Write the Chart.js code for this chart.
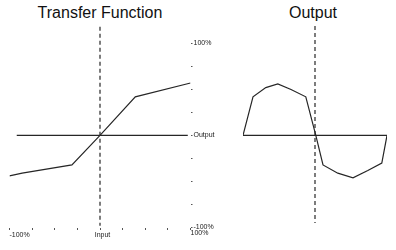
<!DOCTYPE html>
<html>
<head>
<meta charset="utf-8">
<script src="https://cdn.jsdelivr.net/npm/chart.js@4.4.1/dist/chart.umd.min.js"></script>
<style>
  html, body { margin: 0; padding: 0; background: #fff; }
  body { width: 396px; height: 250px; position: relative; overflow: hidden; font-family: "Liberation Sans", Arial, sans-serif; }
  .title { position: absolute; top: 5px; font-size: 16px; line-height: 16px; color: #111; white-space: nowrap; transform: translateX(-50%); }
  canvas { position: absolute; top: 0; }
</style>
</head>
<body>
<div class="title" style="left:100px">Transfer Function</div>
<div class="title" style="left:313px">Output</div>
<canvas id="left" width="230" height="250" style="left:0;width:230px;height:250px"></canvas>
<canvas id="right" width="166" height="250" style="left:230px;width:166px;height:250px"></canvas>
<script>
// ---- data ----
const tfInput  = [-100, -86, -31, 0, 39, 100];
const tfOutput = [-44, -41, -32, 0, 42, 57];
const zeroLineX = [-92, 97];
const inputMarkerY = [118, -98];
const axisTicks = [-100, -75, -50, -25, 0, 25, 50, 75, 100];
const yTickLabels = { "100": "100%", "0": "Output", "-100": "-100%" };
const xTickLabels = { "-100": "-100%", "0": "Input", "100": "100%" };

const phase  = [0, 25, 57, 87, 120, 157, 182, 200, 237, 275, 312, 347, 360];
const outVal = [0, 42, 52, 56, 50, 42, 0, -32, -41, -46, -38, -30, 0];
const outZeroX = [0, 360];
const outMarkerX = 180;
const outMarkerY = [119, -95];

const ink = '#262626';
const zip = (xs, ys) => xs.map((x, i) => ({ x, y: ys[i] }));

const xLabelPlugin = {
  id: 'xLabels',
  afterDraw(chart) {
    const xs = chart.scales.x;
    const ctx = chart.ctx;
    ctx.save();
    ctx.font = '7px "Liberation Sans", Arial, sans-serif';
    ctx.fillStyle = '#1a1a1a';
    ctx.textBaseline = 'middle';
    const base = chart.chartArea.bottom;
    ctx.textAlign = 'left';
    ctx.fillText(xTickLabels["-100"], xs.getPixelForValue(-100), base + 8);
    ctx.textAlign = 'center';
    ctx.fillText(xTickLabels["0"], xs.getPixelForValue(0) + 2.5, base + 8);
    ctx.textAlign = 'left';
    ctx.fillText(xTickLabels["100"], xs.getPixelForValue(100), base + 5.5);
    ctx.restore();
  }
};

new Chart(document.getElementById('left'), {
  type: 'line',
  data: {
    datasets: [
      { data: zip(tfInput, tfOutput), borderColor: ink, borderWidth: 1.2, pointRadius: 0, tension: 0 },
      { data: zip(zeroLineX, [0, 0]), borderColor: ink, borderWidth: 1.2, pointRadius: 0 },
      { data: zip([0, 0], inputMarkerY), borderColor: ink, borderWidth: 1.2, borderDash: [4, 3], pointRadius: 0 }
    ]
  },
  options: {
    responsive: false,
    animation: false,
    events: [],
    layout: { padding: { left: 9.5, top: 25, right: 0, bottom: 0 } },
    plugins: { legend: { display: false }, tooltip: { enabled: false }, title: { display: false } },
    scales: {
      x: {
        type: 'linear', position: 'bottom', min: -100, max: 100,
        afterBuildTicks: s => { s.ticks = axisTicks.map(v => ({ value: v })); },
        afterFit: s => { s.height = 22.5; },
        ticks: { display: false },
        grid: { drawOnChartArea: false, drawTicks: true, tickLength: 2.5, color: '#555', lineWidth: 1 },
        border: { display: false }
      },
      y: {
        type: 'linear', position: 'right', min: -100, max: 120,
        afterBuildTicks: s => { s.ticks = axisTicks.map(v => ({ value: v })); },
        afterFit: s => { s.width = 39.5; },
        ticks: {
          autoSkip: false, padding: 1, color: '#1a1a1a',
          font: { family: '"Liberation Sans", Arial, sans-serif', size: 7 },
          callback: v => yTickLabels[String(v)] || ''
        },
        grid: { drawOnChartArea: false, drawTicks: true, tickLength: 2, color: '#555', lineWidth: 1 },
        border: { display: false }
      }
    }
  },
  plugins: [xLabelPlugin]
});

new Chart(document.getElementById('right'), {
  type: 'line',
  data: {
    datasets: [
      { data: zip(phase, outVal), borderColor: ink, borderWidth: 1.2, pointRadius: 0, tension: 0 },
      { data: zip(outZeroX, [0, 0]), borderColor: ink, borderWidth: 1.2, pointRadius: 0 },
      { data: zip([outMarkerX, outMarkerX], outMarkerY), borderColor: ink, borderWidth: 1.2, borderDash: [4, 3], pointRadius: 0 }
    ]
  },
  options: {
    responsive: false,
    animation: false,
    events: [],
    layout: { padding: { left: 13, top: 25, right: 9, bottom: 22.5 } },
    plugins: { legend: { display: false }, tooltip: { enabled: false }, title: { display: false } },
    scales: {
      x: { type: 'linear', min: 0, max: 360, display: false },
      y: { type: 'linear', min: -100, max: 120, display: false }
    }
  }
});
</script>
</body>
</html>
